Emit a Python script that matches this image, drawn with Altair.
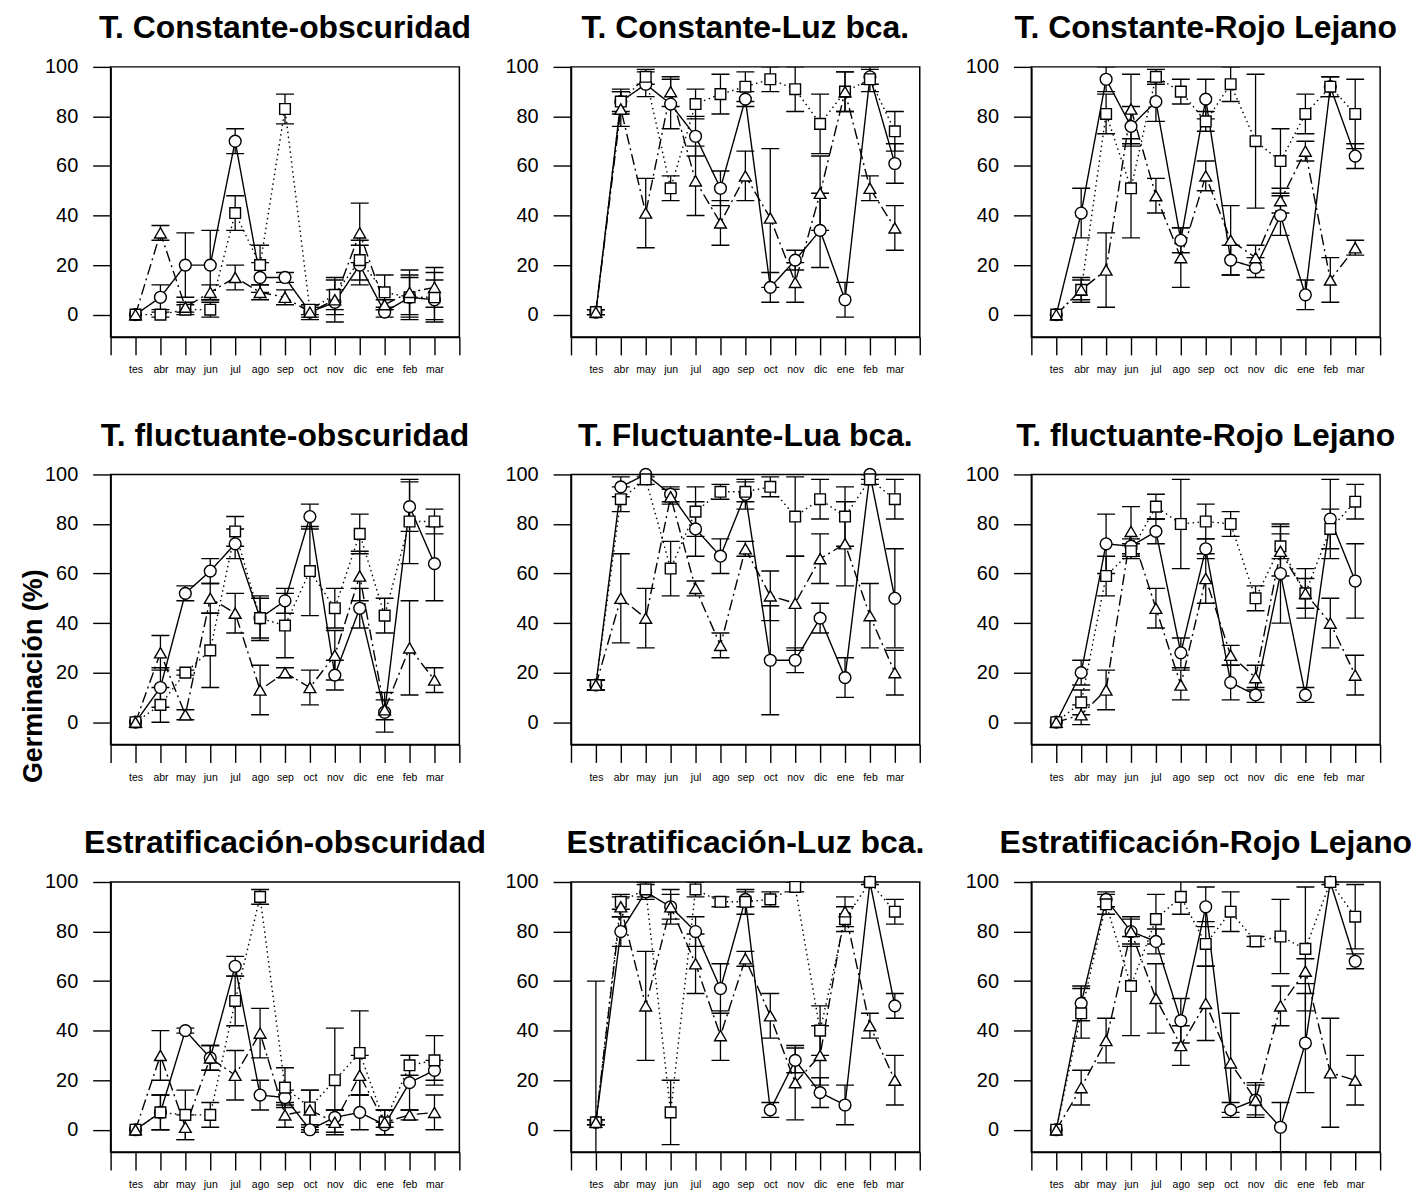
import json
import altair as alt
import pandas as pd

MONTHS = ["tes", "abr", "may", "jun", "jul", "ago", "sep", "oct", "nov", "dic", "ene", "feb", "mar"]
TITLES = [
    "T. Constante-obscuridad", "T. Constante-Luz bca.", "T. Constante-Rojo Lejano",
    "T. fluctuante-obscuridad", "T. Fluctuante-Lua bca.", "T. fluctuante-Rojo Lejano",
    "Estratificación-obscuridad", "Estratificación-Luz bca.", "Estratificación-Rojo Lejano",
]
Y_TITLE = "Germinación (%)"

# circle (solid line), square (dotted line), triangle (dash-dot line); *_E = error half-widths
P1_C = [0, 7, 20, 20, 70, 15, 15, 1, 5, 20, 1, 7, 6]
P1_CE = [0, 5, 13, 14, 5, 6, 2, 2, 5, 8, 2, 8, 8]
P1_S = [0, 0, 2, 2, 41, 20, 83, 2, 8, 22, 9, 7, 7]
P1_SE = [0, 1, 2, 3, 7, 8, 6, 2, 6, 8, 7, 9, 10]
P1_T = [0, 33, 3, 9, 15, 9, 7, 1, 6, 33, 4, 9, 11]
P1_TE = [0, 3, 2, 3, 5, 3, 3, 3, 9, 12, 2, 9, 8]

P2_C = [1, 86, 93, 85, 72, 51, 87, 11, 22, 34, 6, 96, 61]
P2_CE = [1, 5, 5, 10, 8, 7, 3, 6, 4, 15, 7, 3, 8]
P2_S = [1, 86, 96, 51, 85, 89, 92, 95, 91, 77, 90, 95, 74]
P2_SE = [1, 4, 3, 5, 6, 8, 6, 5, 9, 12, 8, 5, 8]
P2_T = [1, 83, 41, 90, 54, 37, 56, 39, 13, 49, 90, 51, 35]
P2_TE = [1, 7, 14, 6, 14, 9, 10, 28, 8, 15, 8, 5, 9]

P3_C = [0, 41, 95, 76, 86, 30, 87, 22, 19, 40, 8, 92, 64]
P3_CE = [0, 10, 5, 8, 8, 5, 8, 6, 4, 8, 6, 4, 5]
P3_S = [0, 10, 81, 51, 96, 90, 78, 93, 70, 62, 81, 92, 81]
P3_SE = [0, 5, 8, 20, 3, 5, 4, 7, 27, 13, 8, 4, 14]
P3_T = [0, 10, 18, 83, 48, 23, 56, 30, 23, 46, 66, 14, 27]
P3_TE = [0, 4, 15, 14, 7, 12, 6, 14, 5, 5, 4, 9, 3]

P4_C = [0, 14, 52, 61, 72, 42, 49, 83, 19, 46, 4, 87, 64]
P4_CE = [0, 8, 3, 5, 6, 9, 5, 5, 6, 8, 8, 10, 15]
P4_S = [0, 7, 20, 29, 77, 42, 39, 61, 46, 76, 43, 81, 81]
P4_SE = [0, 7, 1, 15, 6, 8, 13, 18, 8, 8, 7, 17, 5]
P4_T = [0, 28, 3, 50, 44, 13, 20, 14, 27, 59, 5, 30, 17]
P4_TE = [0, 7, 2, 6, 8, 10, 2, 7, 10, 10, 4, 19, 5]

P5_C = [15, 95, 100, 92, 78, 67, 92, 25, 25, 42, 18, 100, 50]
P5_CE = [2, 4, 1, 3, 11, 7, 6, 22, 5, 6, 8, 2, 20]
P5_S = [15, 90, 98, 62, 85, 93, 93, 95, 83, 90, 83, 98, 90]
P5_SE = [2, 5, 2, 11, 10, 3, 4, 4, 16, 8, 12, 2, 8]
P5_T = [15, 50, 42, 91, 54, 31, 70, 51, 48, 66, 72, 43, 20]
P5_TE = [2, 18, 12, 3, 3, 5, 3, 10, 19, 10, 17, 13, 9]

P6_C = [0, 20, 72, 71, 77, 28, 70, 16, 11, 60, 11, 82, 57]
P6_CE = [0, 5, 12, 3, 5, 6, 4, 7, 3, 20, 3, 16, 15]
P6_S = [0, 8, 59, 69, 87, 80, 81, 80, 50, 71, 52, 78, 89]
P6_SE = [0, 5, 8, 3, 5, 18, 7, 5, 5, 5, 10, 8, 7]
P6_T = [0, 3, 13, 77, 46, 15, 58, 27, 18, 69, 52, 40, 19]
P6_TE = [0, 4, 8, 10, 8, 6, 10, 4, 5, 10, 6, 10, 8]

P7_C = [0, 7, 40, 29, 66, 14, 13, 0, 5, 7, 2, 19, 24]
P7_CE = [0, 7, 1, 5, 4, 6, 3, 1, 3, 7, 1, 11, 4]
P7_S = [0, 7, 6, 6, 52, 94, 17, 9, 20, 31, 3, 26, 28]
P7_SE = [0, 7, 10, 5, 10, 3, 8, 7, 21, 17, 5, 4, 10]
P7_T = [0, 30, 1, 29, 22, 39, 6, 8, 3, 22, 3, 6, 7]
P7_TE = [0, 10, 5, 5, 10, 10, 5, 8, 5, 8, 5, 2, 7]

P8_C = [3, 80, 96, 90, 80, 57, 93, 8, 28, 15, 10, 100, 50]
P8_CE = [57, 6, 3, 7, 6, 10, 3, 3, 5, 6, 8, 1, 5]
P8_S = [3, 92, 97, 7, 97, 92, 92, 93, 98, 40, 85, 100, 88]
P8_SE = [1, 3, 3, 13, 3, 2, 5, 3, 2, 10, 5, 0, 5]
P8_T = [3, 90, 50, 90, 67, 38, 69, 46, 19, 30, 88, 42, 20]
P8_TE = [1, 4, 22, 5, 12, 10, 3, 9, 15, 12, 6, 5, 10]

P9_C = [0, 51, 93, 80, 76, 44, 90, 8, 12, 1, 35, 100, 68]
P9_CE = [0, 7, 3, 5, 5, 9, 8, 3, 7, 10, 20, 1, 3]
P9_S = [0, 47, 91, 58, 85, 94, 75, 88, 76, 78, 73, 100, 86]
P9_SE = [0, 10, 4, 20, 10, 7, 9, 8, 2, 15, 25, 0, 13]
P9_T = [0, 17, 36, 80, 53, 34, 51, 27, 12, 50, 64, 23, 20]
P9_TE = [0, 7, 9, 6, 14, 8, 15, 20, 6, 8, 5, 22, 10]

PANELS = [
    (P1_C, P1_CE, P1_S, P1_SE, P1_T, P1_TE),
    (P2_C, P2_CE, P2_S, P2_SE, P2_T, P2_TE),
    (P3_C, P3_CE, P3_S, P3_SE, P3_T, P3_TE),
    (P4_C, P4_CE, P4_S, P4_SE, P4_T, P4_TE),
    (P5_C, P5_CE, P5_S, P5_SE, P5_T, P5_TE),
    (P6_C, P6_CE, P6_S, P6_SE, P6_T, P6_TE),
    (P7_C, P7_CE, P7_S, P7_SE, P7_T, P7_TE),
    (P8_C, P8_CE, P8_S, P8_SE, P8_T, P8_TE),
    (P9_C, P9_CE, P9_S, P9_SE, P9_T, P9_TE),
]

FONT = "Liberation Sans"
LABEL_EXPR = ("datum.value >= 1 && datum.value <= 13 ? " + json.dumps(MONTHS)
              + "[datum.value - 1] : ''")


def make_df(c, ce, s, se, t, te):
    rows = []
    for name, vals, errs in (("c", c, ce), ("s", s, se), ("t", t, te)):
        for k, (v, e) in enumerate(zip(vals, errs)):
            rows.append({"series": name, "pos": k + 1, "val": v,
                         "lo": v - e, "hi": v + e, "err": e})
    return pd.DataFrame(rows)


def panel(idx, title, data):
    df = make_df(*data)
    xscale = alt.Scale(domain=[0, 14], nice=False, zero=False)
    yscale = alt.Scale(domain=[-9, 100], nice=False, zero=False)
    xaxis = alt.Axis(values=list(range(15)), labelExpr=LABEL_EXPR, title="",
                     grid=False, labelOverlap=False, labelFlush=False)
    if idx == 3:
        yaxis = alt.Axis(values=[0, 20, 40, 60, 80, 100], title=Y_TITLE, grid=False,
                         titleX=-77, titleY=202, titleAngle=270, titleAlign="center",
                         titleBaseline="middle", titleFontSize=27, titleFontWeight="bold")
    else:
        yaxis = alt.Axis(values=[0, 20, 40, 60, 80, 100], title="", grid=False)

    def X():
        return alt.X("pos:Q", scale=xscale, axis=xaxis)

    def Y(f):
        return alt.Y(f, scale=yscale, axis=yaxis)

    base = alt.Chart(df)
    bars = base.transform_filter("datum.err > 0")
    layers = [
        bars.mark_rule(color="black", strokeWidth=1.3, clip=True).encode(
            x=X(), y=Y("lo:Q"), y2="hi:Q"),
        bars.mark_tick(orient="horizontal", size=18, thickness=1.4, color="black",
                       opacity=1, clip=True).encode(x=X(), y=Y("lo:Q")),
        bars.mark_tick(orient="horizontal", size=18, thickness=1.4, color="black",
                       opacity=1, clip=True).encode(x=X(), y=Y("hi:Q")),
    ]
    dashes = {"c": [1, 0], "s": [1.5, 3.5], "t": [11, 4, 2, 4]}
    for name in ["c", "s", "t"]:
        layers.append(
            base.transform_filter(f"datum.series == '{name}'")
            .mark_line(color="black", strokeWidth=1.4, strokeDash=dashes[name])
            .encode(x=X(), y=Y("val:Q"))
        )
    shapes = {"c": ("circle", 140), "s": ("square", 115), "t": ("triangle-up", 140)}
    for name in ["c", "s", "t"]:
        shp, sz = shapes[name]
        layers.append(
            base.transform_filter(f"datum.series == '{name}'")
            .mark_point(shape=shp, size=sz, filled=True, fill="white", stroke="black",
                        strokeWidth=1.4, opacity=1)
            .encode(x=X(), y=Y("val:Q"))
        )
    return alt.layer(*layers).properties(
        width=350, height=271,
        title=alt.TitleParams(text=title),
    )


panels = [panel(i, TITLES[i], PANELS[i]) for i in range(9)]

chart = (
    alt.concat(*panels, columns=3, spacing={"row": 138, "column": 112}, bounds="flush")
    .properties(padding={"left": 19, "top": 9, "right": 3, "bottom": 3}, background="white")
    .configure_view(stroke="black", strokeWidth=1.5, fill="white")
    .configure_axis(domainColor="black", domainWidth=1.5, tickColor="black", tickWidth=1.4,
                    labelColor="black", titleColor="black", labelFont=FONT, titleFont=FONT,
                    grid=False)
    .configure_axisX(tickSize=18, labelFontSize=10.5, labelPadding=10,
                     labelFont="Liberation Sans Narrow, Liberation Sans")
    .configure_axisY(tickSize=18, labelFontSize=20, labelPadding=15)
    .configure_title(font=FONT, fontSize=32, fontWeight="bold", color="black",
                     anchor="middle", offset=12, frame="group")
)

chart.save("out.html", embed_options={"renderer": "svg", "actions": False})
